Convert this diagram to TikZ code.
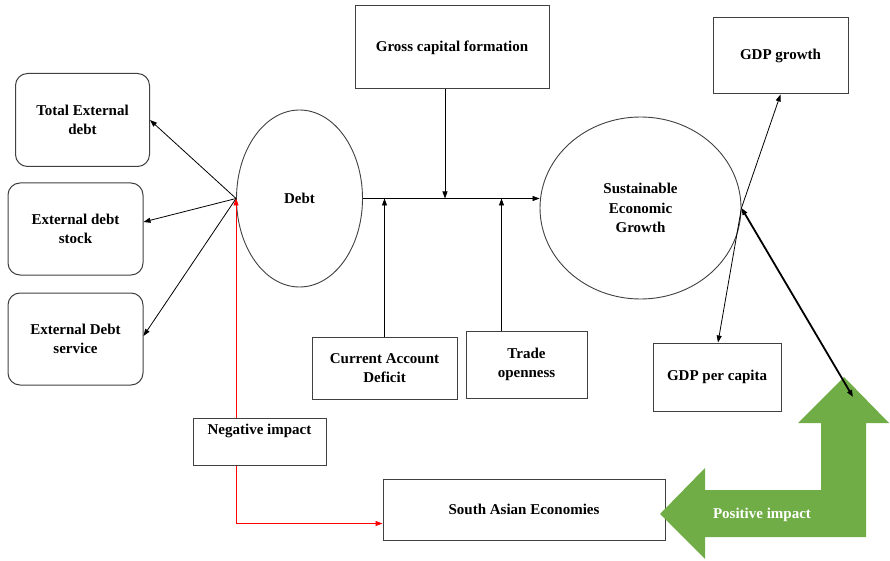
\documentclass[tikz,border=0pt]{standalone}
\usepackage{fontspec}
\setmainfont{Liberation Serif}
\usetikzlibrary{shapes.geometric,arrows.meta}

\definecolor{boxgray}{RGB}{64,64,64}
\definecolor{impactgreen}{RGB}{112,173,71}

\tikzset{
  lbl/.style={font=\bfseries\fontsize{15}{19.5}\selectfont,align=center},
  sqbox/.style={lbl,draw=boxgray,line width=1pt,rectangle,inner sep=0pt},
  rdbox/.style={sqbox,rounded corners=12pt},
  oval/.style={lbl,draw=boxgray,line width=0.9pt,ellipse,inner sep=0pt},
  link/.style={line width=0.8pt,->},
  redlink/.style={line width=0.8pt,red,->}
}

\begin{document}
\begin{tikzpicture}[x=1pt,y=-1pt,>={Triangle[length=7pt,width=5pt]}]
  \useasboundingbox (0,0) rectangle (890,561);

  % debt side
  \node[rdbox,minimum width=134,minimum height=93] (tot) at (82.5,120) {Total External\\debt};
  \node[rdbox,minimum width=135,minimum height=92] (stock) at (75.5,229) {External debt\\stock};
  \node[rdbox,minimum width=135,minimum height=92] (serv) at (75.5,339) {External Debt\\service};
  \node[oval,minimum width=126,minimum height=177] (debt) at (299.5,198.5) {Debt};

  % controls
  \node[sqbox,minimum width=194,minimum height=83] (gcf) at (452,47.5) {Gross capital formation};
  \node[sqbox,minimum width=145,minimum height=62] (cad) at (384.5,368) {Current Account\\Deficit};
  \node[sqbox,minimum width=121,minimum height=67] (trade) at (526.5,364.5) {Trade\\openness};

  % growth side
  \node[oval,minimum width=201,minimum height=182] (seg) at (640.5,208) {Sustainable\\Economic\\Growth};
  \node[sqbox,minimum width=135,minimum height=76] (gdpg) at (780.5,56) {GDP growth};
  \node[sqbox,minimum width=128,minimum height=68] (gdppc) at (717,377) {GDP per capita};

  % bottom
  \node[sqbox,minimum width=133,minimum height=47] (neg) at (259.5,441.5) {Negative impact\\\strut};
  \node[sqbox,minimum width=282,minimum height=61] (sae) at (524,509.5) {South Asian Economies};

  % green L-arrow
  \fill[impactgreen] (660,514) -- (705,468) -- (705,490) -- (821,490) -- (821,423)
    -- (798,423) -- (844,377) -- (889,423) -- (866,423) -- (866,537)
    -- (705,537) -- (705,559) -- cycle;
  \node[lbl,text=white] (pos) at (762,515) {Positive impact};
  \coordinate (gtip) at (853,397);

  \draw[link] (debt.west) -- (tot.east);
  \draw[link] (debt.west) -- ([yshift=7pt]stock.east);
  \draw[link] (debt.west) -- ([yshift=3pt]serv.east);

  \draw[link] (debt.east) -- (debt.east -| seg.west);
  \draw[link] (cad.north) -- (cad.north |- debt.east);
  \draw[link] ([xshift=-25pt]trade.north) -- ([xshift=-25pt]trade.north |- debt.east);
  \draw[link] ([xshift=-7pt]gcf.south) -- ([xshift=-7pt]gcf.south |- debt.east);

  \draw[link] (seg.east) -- (gdpg.south);
  \draw[link] (seg.east) -- ([xshift=1pt]gdppc.north);
  \draw[line width=1.8pt,<->] (seg.east) -- (gtip);

  \draw[redlink] (neg.north -| debt.west) -- (debt.west);
  \draw[redlink] (neg.south -| debt.west) |- ([yshift=-14pt]sae.west);
\end{tikzpicture}
\end{document}
